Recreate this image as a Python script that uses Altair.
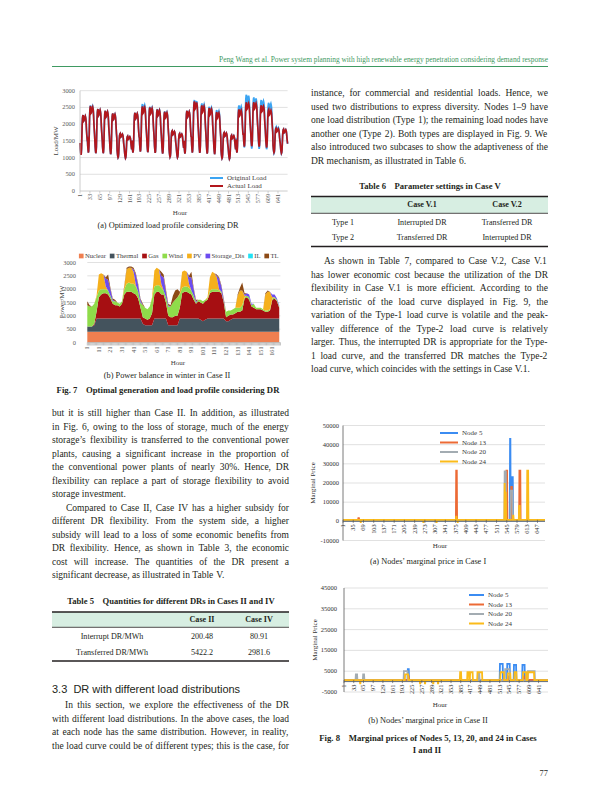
import altair as alt
import pandas as pd

W, H = 584, 795
M = 8


def P(v):
    return v - M


SERIF = "Liberation Serif"
SANS = "Liberation Sans"
INK = "#231f20"
GREEN = "#3f9a62"
HEAD_BG = "#d7eee2"
GRID = "#d9d9d9"

# ---------------- page text ----------------
HEADER = "Peng Wang et al. Power system planning with high renewable energy penetration considering demand response"

LEFT_TEXT_1 = [
    "but it is still higher than Case II. In addition, as illustrated",
    "in Fig. 6, owing to the loss of storage, much of the energy",
    "storage’s flexibility is transferred to the conventional power",
    "plants, causing a significant increase in the proportion of",
    "the conventional power plants of nearly 30%. Hence, DR",
    "flexibility can replace a part of storage flexibility to avoid",
    "storage investment.",
]
LEFT_TEXT_2 = [
    "Compared to Case II, Case IV has a higher subsidy for",
    "different DR flexibility. From the system side, a higher",
    "subsidy will lead to a loss of some economic benefits from",
    "DR flexibility. Hence, as shown in Table 3, the economic",
    "cost will increase. The quantities of the DR present a",
    "significant decrease, as illustrated in Table V.",
]
LEFT_TEXT_3 = [
    "In this section, we explore the effectiveness of the DR",
    "with different load distributions. In the above cases, the load",
    "at each node has the same distribution. However, in reality,",
    "the load curve could be of different types; this is the case, for",
]
RIGHT_TEXT_1 = [
    "instance, for commercial and residential loads. Hence, we",
    "used two distributions to express diversity. Nodes 1–9 have",
    "one load distribution (Type 1); the remaining load nodes have",
    "another one (Type 2). Both types are displayed in Fig. 9. We",
    "also introduced two subcases to show the adaptiveness of the",
    "DR mechanism, as illustrated in Table 6.",
]
RIGHT_TEXT_2 = [
    "As shown in Table 7, compared to Case V.2, Case V.1",
    "has lower economic cost because the utilization of the DR",
    "flexibility in Case V.1 is more efficient. According to the",
    "characteristic of the load curve displayed in Fig. 9, the",
    "variation of the Type-1 load curve is volatile and the peak-",
    "valley difference of the Type-2 load curve is relatively",
    "larger. Thus, the interrupted DR is appropriate for the Type-",
    "1 load curve, and the transferred DR matches the Type-2",
    "load curve, which coincides with the settings in Case V.1.",
]
HEADING_33 = "3.3\u00a0\u00a0DR with different load distributions"

T5_TITLE = "Table 5\u00a0\u00a0\u00a0\u00a0Quantities for different DRs in Cases II and IV"
T5_COLS = ["Case II", "Case IV"]
T5_ROWS = ["Interrupt DR/MWh", "Transferred DR/MWh"]
T5_VALS = [["200.48", "80.91"], ["5422.2", "2981.6"]]

T6_TITLE = "Table 6\u00a0\u00a0\u00a0\u00a0Parameter settings in Case V"
T6_COLS = ["Case V.1", "Case V.2"]
T6_ROWS = ["Type 1", "Type 2"]
T6_VALS = [["Interrupted DR", "Transferred DR"], ["Transferred DR", "Interrupted DR"]]

CAP_7A = "(a) Optimized load profile considering DR"
CAP_7B = "(b) Power balance in winter in Case II"
CAP_7 = "Fig. 7\u00a0\u00a0\u00a0\u00a0Optimal generation and load profile considering DR"
CAP_8A = "(a) Nodes’ marginal price in Case I"
CAP_8B = "(b) Nodes’ marginal price in Case II"
CAP_8_1 = "Fig. 8\u00a0\u00a0\u00a0\u00a0Marginal prices of Nodes 5, 13, 20, and 24 in Cases"
CAP_8_2 = "I and II"
PAGE_NO = "77"

# ---------------- Fig 7(a) data: load profile, 28 days ----------------
SHAPE_24 = [0.30, 0.15, 0.06, 0.00, 0.03, 0.15, 0.45, 0.76, 0.92, 0.98, 1.00, 0.94,
            0.85, 0.86, 0.91, 0.94, 0.96, 0.98, 0.95, 0.90, 0.78, 0.62, 0.50, 0.40]
ORIG_PEAK = [2270, 2560, 2450, 2400, 2320, 1720, 1640,
             2340, 2600, 2520, 2450, 2380, 1800, 1720,
             2400, 2720, 2620, 2520, 2420, 1750, 1670,
             2560, 2880, 2800, 2720, 2640, 1920, 1850]
ACT_PEAK = [2270, 2540, 2450, 2400, 2320, 1720, 1640,
            2340, 2530, 2500, 2440, 2370, 1800, 1720,
            2400, 2680, 2560, 2480, 2360, 1750, 1670,
            2440, 2650, 2650, 2560, 2440, 1880, 1850]
ORIG_TROUGH = [1080, 1150, 1130, 1130, 1100, 1000, 980,
               1150, 1180, 1160, 1140, 1120, 1020, 1000,
               1120, 1150, 1140, 1120, 1100, 980, 960,
               1150, 1300, 1270, 1260, 1250, 1130, 1120]
ACT_TROUGH = [1080, 1150, 1130, 1130, 1100, 1000, 980,
              1150, 1180, 1160, 1140, 1120, 1020, 1000,
              1120, 1150, 1140, 1120, 1100, 980, 960,
              1150, 1330, 1340, 1330, 1300, 1150, 1130]
TICKS_7A = [1, 33, 65, 97, 129, 161, 193, 225, 257, 289, 321, 353, 385, 417, 449,
            481, 513, 545, 577, 609, 641]
YTICKS_7 = [0, 500, 1000, 1500, 2000, 2500, 3000]

# ---------------- Fig 7(b) data: cumulative tops (MW) at hours 1,3,...,167 ----------------
HOURS_7B = list(range(1, 168, 2))
NUCLEAR_MW = 400
THERMAL_TOP = [600, 600, 600, 650, 900, 900, 900, 900, 900, 900, 900, 900,
               900, 900, 900, 900, 900, 900, 900, 900, 900, 900, 900, 900,
               700, 650, 650, 650, 650, 900, 900, 900, 900, 900, 900, 650,
               650, 650, 650, 650, 900, 900, 900, 900, 900, 900, 900, 900,
               900, 850, 800, 850, 900, 900, 900, 900, 900, 900, 900, 900,
               800, 800, 850, 900, 900, 900, 900, 900, 900, 900, 900, 900,
               900, 900, 900, 900, 900, 900, 900, 900, 900, 900, 900, 900]
GAS_TOP = [600, 600, 600, 700, 1150, 1700, 1800, 1850, 1850, 1800, 1650, 1450,
           1400, 1400, 1350, 1450, 1800, 1900, 1900, 1900, 1850, 1800, 1650, 1300,
           950, 900, 850, 900, 1100, 1800, 1900, 1900, 1800, 1800, 1500, 1000,
           950, 950, 1000, 1000, 1300, 1850, 1900, 1900, 1850, 1800, 1600, 1450,
           1550, 1500, 1450, 1550, 1600, 1850, 1900, 1900, 1900, 1900, 1850, 1500,
           950, 1000, 1050, 1050, 1100, 1150, 1150, 1200, 1650, 1700, 1600, 1350,
           1300, 1250, 1250, 1250, 1200, 1150, 1150, 1200, 1600, 1650, 1550, 1300]
WIND_TOP = [1400, 1350, 1350, 1450, 1700, 1950, 2000, 2000, 2000, 1950, 1750, 1550,
            1550, 1500, 1450, 1550, 2000, 2200, 2250, 2200, 2200, 2100, 1900, 1500,
            1400, 1300, 1250, 1350, 1650, 2100, 2150, 2150, 2050, 1950, 1700, 1350,
            1350, 1500, 1600, 1700, 1800, 2050, 2100, 2100, 2050, 1950, 1750, 1500,
            1600, 1600, 1550, 1600, 1650, 1950, 2000, 2000, 2000, 1950, 1900, 1550,
            1150, 1200, 1200, 1250, 1300, 1300, 1300, 1400, 1700, 1750, 1700, 1400,
            1450, 1300, 1300, 1300, 1250, 1200, 1200, 1250, 1650, 1700, 1600, 1350]
PV_TOP = [1400, 1350, 1350, 1450, 1750, 2550, 2600, 2550, 2100, 1950, 1750, 1550,
          1550, 1500, 1450, 1550, 2100, 2750, 2800, 2800, 2650, 2150, 1900, 1500,
          1400, 1300, 1250, 1350, 1700, 2700, 2800, 2750, 2200, 1950, 1700, 1350,
          1350, 1500, 1600, 1700, 1850, 2650, 2700, 2650, 2200, 1950, 1750, 1500,
          1600, 1600, 1550, 1600, 1700, 2450, 2650, 2600, 2450, 2000, 1900, 1550,
          1150, 1200, 1200, 1250, 1300, 1750, 1950, 1950, 1750, 1750, 1700, 1400,
          1450, 1300, 1300, 1300, 1250, 1800, 1900, 1900, 1700, 1700, 1600, 1350]
STOR_TOP = [1400, 1350, 1350, 1450, 1750, 2550, 2600, 2550, 2400, 2350, 2000, 1600,
            1550, 1500, 1450, 1550, 2100, 2750, 2800, 2800, 2750, 2550, 2150, 1600,
            1400, 1300, 1250, 1350, 1700, 2700, 2800, 2750, 2500, 2450, 1900, 1400,
            1350, 1500, 1600, 1700, 1850, 2650, 2700, 2650, 2450, 2450, 2000, 1550,
            1600, 1600, 1550, 1600, 1700, 2450, 2650, 2600, 2500, 2400, 2100, 1600,
            1150, 1200, 1200, 1250, 1300, 1750, 1950, 1950, 1800, 1850, 1800, 1450,
            1450, 1300, 1300, 1300, 1250, 1800, 1900, 1900, 1800, 1800, 1650, 1400]
TL_TOP = [1550, 1400, 1350, 1450, 1750, 2550, 2600, 2550, 2450, 2550, 2050, 1650,
          1600, 1500, 1450, 1550, 2150, 2800, 2850, 2850, 2800, 2600, 2200, 1650,
          1450, 1300, 1250, 1350, 1700, 2700, 2800, 2750, 2650, 2550, 2000, 1450,
          1400, 1750, 1950, 2000, 1900, 2650, 2700, 2650, 2500, 2650, 2050, 1600,
          1600, 1600, 1550, 1600, 1700, 2450, 2650, 2600, 2550, 2450, 2150, 1650,
          1150, 1200, 1200, 1250, 1300, 1800, 2050, 2250, 1850, 1850, 1800, 1450,
          1450, 1300, 1300, 1300, 1250, 1850, 1950, 1900, 1800, 1800, 1650, 1400]
BANDS_7B = ["Nuclear", "Thermal", "Gas", "Wind", "PV", "Storage_Dis", "IL", "TL"]
COLORS_7B = ["#ef7f50", "#44535d", "#a60f12", "#8fdc4a", "#f5b01c", "#6c4cf0", "#21e1f4", "#8c4a16"]
TICKS_7B = list(range(1, 169, 10))

# ---------------- Fig 8 data: nodal marginal prices ----------------
NODES = ["Node 5", "Node 13", "Node 20", "Node 24"]
NODE_COLORS = ["#3b8cf2", "#ec6a35", "#a3acb2", "#fbbb1a"]
BASE_8A = [400, 700, 650, 750]
EVENTS_8A = [
    [(556, 557, 43000), (562, 565, 23000)],
    [(52, 54, 1600), (377, 379, 26500), (544, 546, 26500), (560, 562, 18000), (587, 590, 26500)],
    [(538, 542, 26000), (558, 564, 16000)],
    [(60, 60, -800), (268, 268, -800), (312, 312, -800), (377, 378, 2500), (382, 382, -800),
     (538, 538, 20000), (539, 542, 15000), (566, 567, 3000), (586, 588, 8000), (613, 616, 26500)],
]
BASE_8B = [500, 800, 700, 750]
EVENTS_8B = [
    [(211, 214, 6000), (514, 523, 8500), (538, 546, 8500), (560, 567, 8000), (588, 595, 8000)],
    [(213, 214, 2500), (542, 543, 2500), (592, 593, 2500)],
    [(40, 44, 3500), (64, 67, 3500), (198, 210, 5000), (442, 446, 4000), (531, 545, 6000), (606, 628, 5000)],
    [(54, 55, -800), (202, 212, 3500), (251, 252, -900), (267, 268, -800), (294, 295, -800), (310, 311, -900),
     (383, 386, 4500), (407, 412, 4500), (416, 424, 4500), (440, 455, 4500),
     (516, 527, 4500), (540, 548, 4000), (562, 568, 4500), (590, 600, 4500), (606, 626, 4500)],
]
TICKS_8A = list(range(1, 672, 34))
TICKS_8B = list(range(1, 672, 32))
YTICKS_8A = [-10000, 0, 10000, 20000, 30000, 40000, 50000]
YTICKS_8B = [-5000, 5000, 15000, 25000, 35000, 45000]

# ---------------- helpers ----------------
_TW = {' ': 250, '!': 333, '%': 833, "'": 180, '(': 333, ')': 333, ',': 250, '-': 333, '.': 250,
       '/': 278, ':': 278, ';': 278, '?': 444, '’': 333, '–': 500, '_': 500,
       'A': 722, 'B': 667, 'C': 667, 'D': 722, 'E': 611, 'F': 556, 'G': 722, 'H': 722, 'I': 333,
       'J': 389, 'K': 722, 'L': 611, 'M': 889, 'N': 722, 'O': 722, 'P': 556, 'Q': 722, 'R': 667,
       'S': 556, 'T': 611, 'U': 722, 'V': 722, 'W': 944, 'X': 722, 'Y': 722, 'Z': 611,
       'a': 444, 'b': 500, 'c': 444, 'd': 500, 'e': 444, 'f': 333, 'g': 500, 'h': 500, 'i': 278,
       'j': 278, 'k': 500, 'l': 278, 'm': 778, 'n': 500, 'o': 500, 'p': 500, 'q': 500, 'r': 333,
       's': 389, 't': 278, 'u': 500, 'v': 500, 'w': 722, 'x': 500, 'y': 500, 'z': 444}


def tw(s, fs):
    return sum(_TW.get(c, 500) for c in s) * fs / 1000.0


BODY_FS = 9.5
LEAD = 13.5


def paragraph(lines, x0, x1, y0, indent, ragged_last):
    rows = []
    for i, line in enumerate(lines):
        words = line.split(" ")
        left = x0 + (indent if i == 0 else 0)
        y = y0 + i * LEAD
        natural = sum(tw(w, BODY_FS) for w in words)
        if (i == len(lines) - 1 and ragged_last) or len(words) == 1:
            gap = 250 * BODY_FS / 1000.0
        else:
            gap = (x1 - left - natural) / (len(words) - 1)
        x = left
        for w in words:
            rows.append({"x": P(x), "y": P(y), "t": w})
            x += tw(w, BODY_FS) + gap
    df = pd.DataFrame(rows)
    return alt.Chart(df).mark_text(align="left", baseline="middle", font=SERIF,
                                   fontSize=BODY_FS, color=INK).encode(
        x=alt.X("x:Q", scale=None, axis=None), y=alt.Y("y:Q", scale=None, axis=None), text="t:N")


ONE = pd.DataFrame({"k": [0]})


def hrule(x0, x1, y, w, color=INK):
    return alt.Chart(ONE).mark_rule(strokeWidth=w, color=color).encode(
        x=alt.value(P(x0)), x2=alt.value(P(x1)), y=alt.value(P(y)))


def vrule(x, y0, y1, w, color):
    return alt.Chart(ONE).mark_rule(strokeWidth=w, color=color).encode(
        x=alt.value(P(x)), y=alt.value(P(y0)), y2=alt.value(P(y1)))


def box(x0, x1, y0, y1, color):
    return alt.Chart(ONE).mark_rect(color=color).encode(
        x=alt.value(P(x0)), x2=alt.value(P(x1)), y=alt.value(P(y0)), y2=alt.value(P(y1)))


def label(x, y, s, size, weight="normal", align="center", font=SERIF, color=INK, angle=0):
    df = pd.DataFrame({"x": [P(x)], "y": [P(y)], "t": [s]})
    return alt.Chart(df).mark_text(align=align, baseline="middle", fontSize=size, fontWeight=weight,
                                   font=font, color=color, angle=angle).encode(
        x=alt.X("x:Q", scale=None, axis=None), y=alt.Y("y:Q", scale=None, axis=None), text="t:N")


def line_legend(names, colors, x0, y0, step, sym_len, fs, color="#404040"):
    df = pd.DataFrame({"name": names,
                       "x": [P(x0)] * len(names),
                       "x2": [P(x0 + sym_len)] * len(names),
                       "xt": [P(x0 + sym_len + 4)] * len(names),
                       "y": [P(y0 + i * step) for i in range(len(names))]})
    cs = alt.Scale(domain=names, range=colors)
    sym = alt.Chart(df).mark_rule(strokeWidth=2).encode(
        x=alt.X("x:Q", scale=None, axis=None), x2="x2:Q", y=alt.Y("y:Q", scale=None, axis=None),
        color=alt.Color("name:N", scale=cs, legend=None))
    txt = alt.Chart(df).mark_text(align="left", baseline="middle", font=SERIF, fontSize=fs,
                                  color=color).encode(
        x=alt.X("xt:Q", scale=None, axis=None), y=alt.Y("y:Q", scale=None, axis=None), text="name:N")
    return [sym, txt]


def ytick_labels(values, ys, x_right, color, fs):
    df = pd.DataFrame({"v": values, "lab": [str(v) for v in values]})
    return alt.Chart(df).mark_text(align="right", baseline="middle", font=SERIF, fontSize=fs,
                                   color=color).encode(
        y=alt.Y("v:Q", scale=ys, axis=None), x=alt.value(P(x_right)), text="lab:N")


def xtick_labels(values, xs, y_top, color, fs):
    df = pd.DataFrame({"h": values, "lab": [str(v) for v in values]})
    return alt.Chart(df).mark_text(align="right", baseline="middle", angle=270, font=SERIF,
                                   fontSize=fs, color=color).encode(
        x=alt.X("h:Q", scale=xs, axis=None), y=alt.value(P(y_top)), text="lab:N")


def xticks(values, xs, y_line, length, color):
    df = pd.DataFrame({"h": values})
    return alt.Chart(df).mark_rule(color=color, strokeWidth=0.7).encode(
        x=alt.X("h:Q", scale=xs, axis=None), y=alt.value(P(y_line)), y2=alt.value(P(y_line + length)))


def gridlines(values, ys, x0, x1, color=GRID):
    df = pd.DataFrame({"g": values})
    return alt.Chart(df).mark_rule(color=color, strokeWidth=0.8).encode(
        y=alt.Y("g:Q", scale=ys, axis=None), x=alt.value(P(x0)), x2=alt.value(P(x1)))


layers = []

# ---------------- header ----------------
layers.append(label(548, 59.5, HEADER, 7.4, align="right", color=GREEN))
layers.append(hrule(52, 548, 66.5, 1, GREEN))

# ---------------- Fig 7(a) ----------------
A_X0, A_X1, A_YB, A_YT = 80, 287.6, 191, 90.7
hours_a, vals_a, ser_a = [], [], []
for name, pk, tr in [("Original Load", ORIG_PEAK, ORIG_TROUGH), ("Actual Load", ACT_PEAK, ACT_TROUGH)]:
    for d in range(28):
        for k, s in enumerate(SHAPE_24):
            hours_a.append(d * 24 + k + 1)
            vals_a.append(tr[d] + s * (pk[d] - tr[d]))
            ser_a.append(name)
df_a = pd.DataFrame({"h": hours_a, "v": vals_a, "s": ser_a})
xs_a = alt.Scale(domain=[1, 672], range=[P(A_X0), P(A_X1)], nice=False, zero=False)
ys_a = alt.Scale(domain=[0, 3000], range=[P(A_YB), P(A_YT)], nice=False, zero=False)
cs_a = alt.Scale(domain=["Original Load", "Actual Load"], range=["#3ba4f2", "#b2171d"])
layers.append(gridlines(YTICKS_7[1:], ys_a, A_X0, A_X1))
for sname in ["Original Load", "Actual Load"]:
    layers.append(alt.Chart(df_a).transform_filter(f"datum.s == '{sname}'").mark_line(strokeWidth=1.7).encode(
        x=alt.X("h:Q", scale=xs_a, axis=None), y=alt.Y("v:Q", scale=ys_a, axis=None),
        color=alt.Color("s:N", scale=cs_a, legend=None)))
layers.append(vrule(A_X0, A_YT, A_YB, 0.8, "#bfbfbf"))
layers.append(hrule(A_X0, A_X1, A_YB, 0.8, "#bfbfbf"))
layers.append(xticks(TICKS_7A, xs_a, A_YB, 2.5, "#bfbfbf"))
layers.append(ytick_labels(YTICKS_7, ys_a, 75, "#595959", 6.4))
layers.append(xtick_labels(TICKS_7A, xs_a, A_YB + 3, "#595959", 6.2))
layers += line_legend(["Original Load", "Actual Load"], ["#3ba4f2", "#b2171d"], 210, 178, 8, 13, 7)
layers.append(label(56, 141, "Load/MW", 7, angle=270, color="#404040"))
layers.append(label(180, 213, "Hour", 7, color="#404040"))
layers.append(label(168, 226, CAP_7A, 8.3))

# ---------------- Fig 7(b) ----------------
B_X0, B_X1, B_YB, B_YT = 87.3, 280.4, 342.5, 262.5
rows_b = []
for i, h in enumerate(HOURS_7B):
    tops = [NUCLEAR_MW, THERMAL_TOP[i], GAS_TOP[i], WIND_TOP[i], PV_TOP[i], STOR_TOP[i], STOR_TOP[i], TL_TOP[i]]
    lo = 0
    for b, top in zip(BANDS_7B, tops):
        rows_b.append({"h": h, "band": b, "lo": lo, "hi": top})
        lo = top
df_b = pd.DataFrame(rows_b)
xs_b = alt.Scale(domain=[1, 168], range=[P(B_X0), P(B_X1)], nice=False, zero=False)
ys_b = alt.Scale(domain=[0, 3000], range=[P(B_YB), P(B_YT)], nice=False, zero=False)
cs_b = alt.Scale(domain=BANDS_7B, range=COLORS_7B)
layers.append(gridlines(YTICKS_7[1:], ys_b, B_X0, B_X1))
layers.append(alt.Chart(df_b).mark_area(interpolate="linear").encode(
    x=alt.X("h:Q", scale=xs_b, axis=None),
    y=alt.Y("lo:Q", scale=ys_b, axis=None), y2="hi:Q",
    color=alt.Color("band:N", scale=cs_b, legend=None)))
layers.append(hrule(B_X0, B_X1, B_YB, 0.8, "#bfbfbf"))
layers.append(xticks(list(range(1, 169)), xs_b, B_YB, 3, "#a6a6a6"))
layers.append(ytick_labels(YTICKS_7, ys_b, 76, "#595959", 6.4))
layers.append(xtick_labels(TICKS_7B, xs_b, B_YB + 4, "#595959", 6.2))
leg_rows = []
xcur = 79
for b in BANDS_7B:
    leg_rows.append({"band": b, "xs": P(xcur + 2.25), "xt": P(xcur + 6), "y": P(256)})
    xcur += 6 + tw(b, 6.6) + 4
df_leg_b = pd.DataFrame(leg_rows)
layers.append(alt.Chart(df_leg_b).mark_square(size=22, opacity=1).encode(
    x=alt.X("xs:Q", scale=None, axis=None), y=alt.Y("y:Q", scale=None, axis=None),
    color=alt.Color("band:N", scale=cs_b, legend=None)))
layers.append(alt.Chart(df_leg_b).mark_text(align="left", baseline="middle", font=SERIF, fontSize=6.6,
                                            color="#404040").encode(
    x=alt.X("xt:Q", scale=None, axis=None), y=alt.Y("y:Q", scale=None, axis=None), text="band:N"))
layers.append(label(62, 302, "Power/MW", 7, angle=270, color="#404040"))
layers.append(label(178, 363, "Hour", 7, color="#404040"))
layers.append(label(167, 376, CAP_7B, 8.3))
layers.append(label(168, 390, CAP_7, 8.7, weight="bold"))


# ---------------- Fig 8 panels ----------------
def node_series(base, events):
    vals = [base] * 672
    for a, b, v in events:
        for h in range(a, b + 1):
            vals[h - 1] = v
    return vals


def price_panel(bases, events, x0, x1, ytop, ybot, ydom, yticks, xtick_vals, ylab_right):
    out = []
    xs = alt.Scale(domain=[1, 672], range=[P(x0), P(x1)], nice=False, zero=False)
    ys = alt.Scale(domain=ydom, range=[P(ybot), P(ytop)], nice=False, zero=False)
    cs = alt.Scale(domain=NODES, range=NODE_COLORS)
    zero_y = ybot - (0 - ydom[0]) / (ydom[1] - ydom[0]) * (ybot - ytop)
    out.append(gridlines([t for t in yticks if t != 0], ys, x0, x1))
    for k, node in enumerate(NODES):
        df = pd.DataFrame({"h": list(range(1, 673)), "v": node_series(bases[k], events[k]), "node": node})
        out.append(alt.Chart(df).mark_line(strokeWidth=1.8, interpolate="linear").encode(
            x=alt.X("h:Q", scale=xs, axis=None), y=alt.Y("v:Q", scale=ys, axis=None),
            color=alt.Color("node:N", scale=cs, legend=None)))
    out.append(vrule(x0, ytop, ybot, 0.8, "#595959"))
    out.append(hrule(x0, x1, zero_y, 0.8, "#595959"))
    out.append(xticks(xtick_vals, xs, zero_y - 1.5, 3, "#595959"))
    out.append(ytick_labels(yticks, ys, ylab_right, "#303030", 6.5))
    out.append(xtick_labels(xtick_vals, xs, zero_y + 3, "#303030", 6.3))
    return out


layers += price_panel(BASE_8A, EVENTS_8A, 343, 545, 425.5, 540.5, [-10000, 50000], YTICKS_8A, TICKS_8A, 339)
layers += line_legend(NODES, NODE_COLORS, 440, 433, 9.5, 18, 7)
layers.append(label(313, 483, "Marginal Price", 7, angle=270, color="#303030"))
layers.append(label(440, 546, "Hour", 7, color="#303030"))
layers.append(label(428, 562, CAP_8A, 8.3))

layers += price_panel(BASE_8B, EVENTS_8B, 344, 548, 588, 692, [-5000, 45000], YTICKS_8B, TICKS_8B, 337)
layers += line_legend(NODES, NODE_COLORS, 469, 595, 9.5, 15, 7)
layers.append(label(315, 640, "Marginal Price", 7, angle=270, color="#303030"))
layers.append(label(440, 705, "Hour", 7, color="#303030"))
layers.append(label(428, 721, CAP_8B, 8.3))
layers.append(label(428, 738, CAP_8_1, 8.7, weight="bold"))
layers.append(label(427, 750, CAP_8_2, 8.7, weight="bold"))
layers.append(label(548, 773, PAGE_NO, 8.5, align="right"))

# ---------------- body text ----------------
layers.append(paragraph(LEFT_TEXT_1, 52, 289, 413, 0, True))
layers.append(paragraph(LEFT_TEXT_2, 52, 289, 413 + 7 * LEAD, 14, True))
layers.append(paragraph(LEFT_TEXT_3, 52, 289, 705, 13, False))
layers.append(paragraph(RIGHT_TEXT_1, 311, 548, 93, 0, True))
layers.append(paragraph(RIGHT_TEXT_2, 311, 548, 261, 13, True))
layers.append(label(52, 690, HEADING_33, 11, align="left", font=SANS))

# ---------------- Table 5 ----------------
T5_X = [112, 202, 259]
layers.append(label(171, 601, T5_TITLE, 8.6, weight="bold"))
layers.append(box(52, 289, 612, 627, HEAD_BG))
layers.append(hrule(52, 289, 612, 1.6))
layers.append(hrule(52, 289, 627.3, 0.8))
layers.append(hrule(52, 289, 661, 1.6))
for j, c in enumerate(T5_COLS):
    layers.append(label(T5_X[j + 1], 620, c, 8.1, weight="bold"))
for i, r in enumerate(T5_ROWS):
    y = 637 + i * 16
    layers.append(label(T5_X[0], y, r, 8.1))
    for j, v in enumerate(T5_VALS[i]):
        layers.append(label(T5_X[j + 1], y, v, 8.1))

# ---------------- Table 6 ----------------
T6_X = [343, 422, 507]
layers.append(label(430, 186, T6_TITLE, 8.6, weight="bold"))
layers.append(box(311, 548, 196.5, 213, HEAD_BG))
layers.append(hrule(311, 548, 196.5, 1.6))
layers.append(hrule(311, 548, 213.3, 0.8))
layers.append(hrule(311, 548, 246.5, 1.6))
for j, c in enumerate(T6_COLS):
    layers.append(label(T6_X[j + 1], 205, c, 8.1, weight="bold"))
for i, r in enumerate(T6_ROWS):
    y = 222.5 + i * 15
    layers.append(label(T6_X[0], y, r, 8.1))
    for j, v in enumerate(T6_VALS[i]):
        layers.append(label(T6_X[j + 1], y, v, 8.1))

chart = alt.layer(*layers).resolve_scale(
    x="independent", y="independent", color="independent"
).properties(width=W, height=H, padding=0, autosize=alt.AutoSizeParams(type="none")
).configure_view(strokeWidth=0)

chart.save("out.html", embed_options={"renderer": "svg", "actions": False})
